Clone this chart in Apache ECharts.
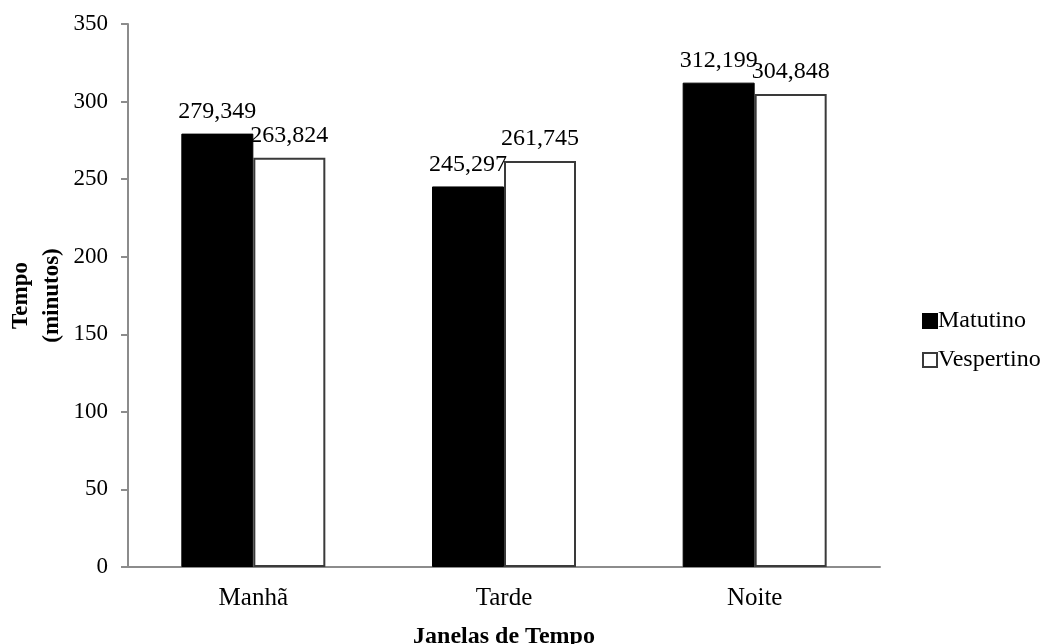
<!DOCTYPE html>
<html>
<head>
<meta charset="utf-8">
<script src="https://cdn.jsdelivr.net/npm/echarts@6/dist/echarts.min.js"></script>
<style>
  html, body { margin: 0; padding: 0; background: #fff; }
  #chart { width: 1047px; height: 644px; }
</style>
</head>
<body>
<div id="chart"></div>
<script>
const categories = ['Manhã', 'Tarde', 'Noite'];
const matutino = [279.349, 245.297, 312.199];
const vespertino = [263.824, 261.745, 304.848];
const yTicks = [0, 350, 50]; // min, max, interval

const fontFam = '"Liberation Serif", "Times New Roman", serif';
const axisGray = '#8c8c8c';

const chart = echarts.init(document.getElementById('chart'));

// rótulos com vírgula decimal
const fmt = (p) => p.value.toFixed(3).replace('.', ',');

const option = {
  animation: false,
  backgroundColor: '#fff',
  textStyle: { fontFamily: fontFam, color: '#000' },
  grid: { left: 128, right: 167, top: 24, bottom: 77, containLabel: false, outerBoundsMode: 'none' },
  legend: {
    orient: 'vertical',
    left: 917,
    top: 304,
    icon: 'rect',
    itemWidth: 14,
    itemHeight: 14,
    itemGap: 15,
    textStyle: { fontFamily: fontFam, fontSize: 24, color: '#000', padding: [0, 0, 0, -4] },
    data: ['Matutino', 'Vespertino']
  },
  xAxis: {
    type: 'category',
    data: categories,
    name: 'Janelas de Tempo',
    nameLocation: 'middle',
    nameGap: 58,
    nameTextStyle: { fontFamily: fontFam, fontSize: 24, fontWeight: 'bold', color: '#000' },
    axisLine: { lineStyle: { color: axisGray, width: 2 } },
    axisTick: { length: 8, lineStyle: { color: axisGray, width: 2 } },
    axisLabel: { fontFamily: fontFam, fontSize: 25, color: '#000', margin: 19 }
  },
  yAxis: {
    type: 'value',
    min: yTicks[0],
    max: yTicks[1],
    interval: yTicks[2],
    name: 'Tempo\n(minutos)',
    nameLocation: 'middle',
    nameRotate: 90,
    nameGap: 60,
    nameMoveOverlap: false,
    nameTextStyle: { fontFamily: fontFam, fontSize: 23, fontWeight: 'bold', color: '#000', lineHeight: 31 },
    axisLine: { show: true, lineStyle: { color: axisGray, width: 2 } },
    axisTick: { show: true, length: 7, lineStyle: { color: axisGray, width: 2 } },
    splitLine: { show: false },
    axisLabel: { fontFamily: fontFam, fontSize: 23, color: '#000', margin: 20 }
  },
  series: [
    {
      name: 'Matutino',
      type: 'bar',
      data: matutino,
      barWidth: 72,
      barGap: '0%',
      itemStyle: { color: '#000', borderColor: '#000', borderWidth: 1 },
      label: { show: true, position: 'top', distance: 10, formatter: fmt, fontFamily: fontFam, fontSize: 24, color: '#000' }
    },
    {
      name: 'Vespertino',
      type: 'bar',
      data: vespertino,
      barWidth: 72,
      barGap: '0%',
      itemStyle: { color: '#fff', borderColor: '#3a3a3a', borderWidth: 2 },
      label: { show: true, position: 'top', distance: 10, formatter: fmt, fontFamily: fontFam, fontSize: 24, color: '#000' }
    }
  ]
};

chart.setOption(option);
</script>
</body>
</html>
